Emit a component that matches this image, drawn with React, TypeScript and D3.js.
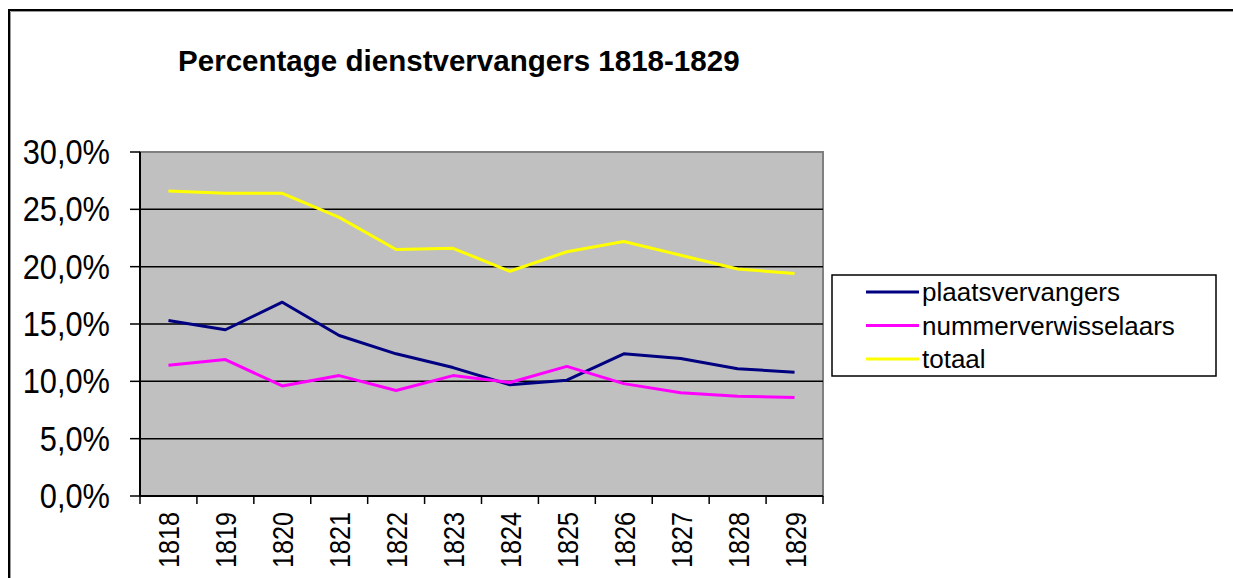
import React, { useEffect, useRef } from "react";
import * as d3 from "d3";

const years = ["1818", "1819", "1820", "1821", "1822", "1823", "1824", "1825", "1826", "1827", "1828", "1829"];
const plaatsvervangers = [15.3, 14.5, 16.9, 14.0, 12.4, 11.2, 9.7, 10.1, 12.4, 12.0, 11.1, 10.8];
const nummerverwisselaars = [11.4, 11.9, 9.6, 10.5, 9.2, 10.5, 9.9, 11.3, 9.8, 9.0, 8.7, 8.6];
const totaal = [26.6, 26.4, 26.4, 24.3, 21.5, 21.6, 19.6, 21.3, 22.2, 21.0, 19.8, 19.4];
const yTicks = [0, 5, 10, 15, 20, 25, 30];

const seriesNames = ["plaatsvervangers", "nummerverwisselaars", "totaal"];
const seriesColors = ["#000080", "#ff00ff", "#ffff00"];

export default function App() {
  const ref = useRef<SVGSVGElement>(null);

  useEffect(() => {
    document.body.style.margin = "0";
    const svg = d3.select(ref.current);
    svg.selectAll("*").remove();

    const font = "'Liberation Sans', Arial, sans-serif";
    const left = 140, right = 823, top = 152, bottom = 496;

    // outer frame (runs off the right and bottom)
    svg.append("path")
      .attr("d", "M9,578 V10 H1233")
      .attr("fill", "none")
      .attr("stroke", "#000")
      .attr("stroke-width", 2);
    svg.append("path")
      .attr("d", "M10.5,578 V11.5 H1233")
      .attr("fill", "none")
      .attr("stroke", "#999")
      .attr("stroke-width", 1);

    // title
    svg.append("text")
      .attr("transform", "translate(178,71) scale(0.985,1)")
      .attr("font-family", font)
      .attr("font-weight", "bold")
      .attr("font-size", 30)
      .attr("fill", "#000")
      .text("Percentage dienstvervangers 1818-1829");

    const x = d3.scaleBand().domain(years).range([left, right]);
    const y = d3.scaleLinear().domain([0, 30]).range([bottom, top]);

    // plot area
    svg.append("rect")
      .attr("x", left).attr("y", top)
      .attr("width", right - left).attr("height", bottom - top)
      .attr("fill", "#c0c0c0")
      .attr("stroke", "#808080")
      .attr("stroke-width", 2);

    // gridlines
    svg.append("g").selectAll("line")
      .data(yTicks.filter(d => d > 0 && d < 30))
      .enter().append("line")
      .attr("x1", left).attr("x2", right)
      .attr("y1", d => y(d)).attr("y2", d => y(d))
      .attr("stroke", "#000")
      .attr("stroke-width", 1.5);

    // y axis
    svg.append("line")
      .attr("x1", left).attr("x2", left)
      .attr("y1", top).attr("y2", bottom)
      .attr("stroke", "#000").attr("stroke-width", 2);
    svg.append("g").selectAll("line")
      .data(yTicks)
      .enter().append("line")
      .attr("x1", left - 10).attr("x2", left)
      .attr("y1", d => y(d)).attr("y2", d => y(d))
      .attr("stroke", "#000").attr("stroke-width", 1.5);
    svg.append("g").selectAll("text")
      .data(yTicks)
      .enter().append("text")
      .attr("transform", d => "translate(110," + (y(d) + 12) + ") scale(0.88,1)")
      .attr("text-anchor", "end")
      .attr("font-family", font)
      .attr("font-size", 35)
      .attr("fill", "#000")
      .text(d => d.toFixed(1).replace(".", ",") + "%");

    // x axis
    svg.append("line")
      .attr("x1", left).attr("x2", right)
      .attr("y1", bottom).attr("y2", bottom)
      .attr("stroke", "#000").attr("stroke-width", 2);
    const bounds = years.map(d => x(d) as number).concat([right]);
    svg.append("g").selectAll("line")
      .data(bounds)
      .enter().append("line")
      .attr("x1", d => d).attr("x2", d => d)
      .attr("y1", bottom).attr("y2", bottom + 8)
      .attr("stroke", "#000").attr("stroke-width", 1.5);
    svg.append("g").selectAll("text")
      .data(years)
      .enter().append("text")
      .attr("transform", d => "translate(" + ((x(d) as number) + x.bandwidth() / 2 + 11) + ",512) rotate(-90) scale(0.84,1)")
      .attr("text-anchor", "end")
      .attr("font-family", font)
      .attr("font-size", 30)
      .attr("fill", "#000")
      .text(d => d);

    // lines
    const allSeries = [plaatsvervangers, nummerverwisselaars, totaal];
    const line = d3.line<number>()
      .x((d, i) => (x(years[i]) as number) + x.bandwidth() / 2)
      .y(d => y(d));
    allSeries.forEach((s, i) => {
      svg.append("path")
        .datum(s)
        .attr("d", line)
        .attr("fill", "none")
        .attr("stroke", seriesColors[i])
        .attr("stroke-width", 3)
        .attr("stroke-linejoin", "round");
    });

    // legend
    const legend = svg.append("g");
    legend.append("rect")
      .attr("x", 832).attr("y", 275)
      .attr("width", 384).attr("height", 101)
      .attr("fill", "#fff")
      .attr("stroke", "#000")
      .attr("stroke-width", 1.5);
    seriesNames.forEach((name, i) => {
      const ly = 292 + i * 33.5;
      legend.append("line")
        .attr("x1", 866).attr("x2", 919)
        .attr("y1", ly).attr("y2", ly)
        .attr("stroke", seriesColors[i])
        .attr("stroke-width", 3);
      legend.append("text")
        .attr("x", 922).attr("y", ly + 9)
        .attr("font-family", font)
        .attr("font-size", 26)
        .attr("fill", "#000")
        .text(name);
    });
  }, []);

  return <svg ref={ref} width={1233} height={578} style={{ display: "block" }}></svg>;
}
